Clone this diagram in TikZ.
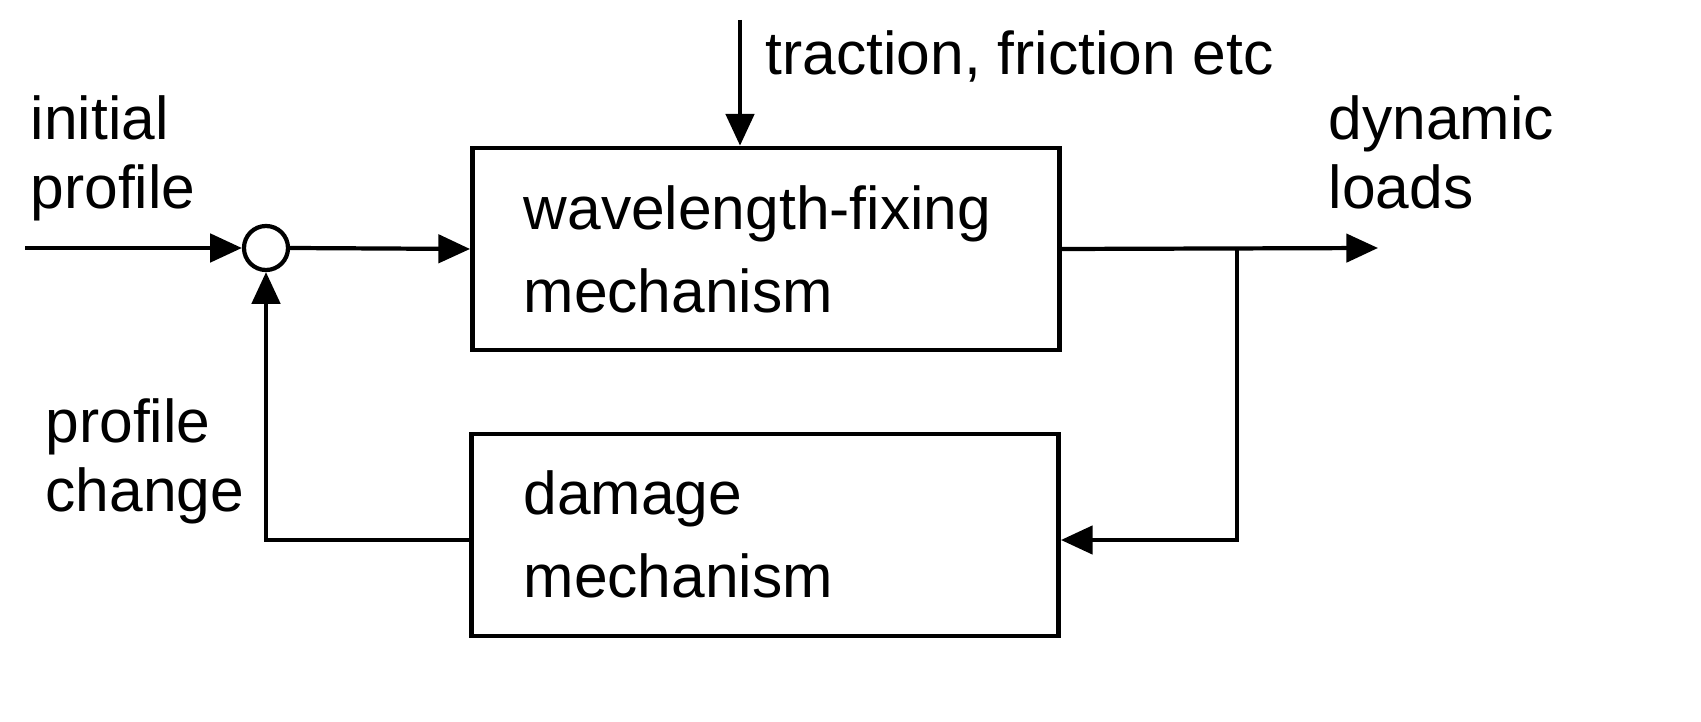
\documentclass[tikz,border=0pt]{standalone}
\usepackage{fontspec}
\setmainfont{Liberation Sans}
\usetikzlibrary{arrows.meta}
\begin{document}
\begin{tikzpicture}[x=0.01cm,y=-0.01cm,
  every node/.style={font=\fontsize{17.2}{19.5}\selectfont},
  ln/.style={line width=1.2pt},
  arr/.style={ln,-{Triangle[length=9pt,width=8pt]}},
  blk/.style={draw,line width=1.3pt,minimum width=5.87cm,minimum height=2.02cm},
  lbl/.style={align=left,anchor=north west,inner sep=0pt}]
\useasboundingbox (0,0) rectangle (1701,722);
\node[blk] (wf) at (766,249) {};
\node[blk] (dm) at (765,535) {};
\node[lbl] at (523,185) {wavelength-fixing\\[4pt]mechanism};
\node[lbl] at (523,470) {damage\\[4pt]mechanism};
\node[draw,circle,line width=1.2pt,minimum size=0.44cm,inner sep=0pt] (sum) at (266,248) {};
\coordinate (in) at (25,248);
\coordinate (top) at (740,20);
\coordinate (out) at (1378,248);
\coordinate (br) at (1237,248);
\coordinate (brd) at (1237,540);
\coordinate (fbc) at (266,540);
\draw[arr] (in) -- (sum.west);
\draw[arr] (sum.east) -- (wf.west);
\draw[arr] (top) -- (wf.north west -| top);
\draw[arr] (wf.east) -- (out);
\draw[arr] (br) -- (brd) -- (dm.east |- brd);
\draw[arr] (dm.west |- fbc) -- (fbc) -- (sum.south);
\node[lbl] at (765,30) {traction, friction etc};
\node[lbl] at (30,95) {initial\\profile};
\node[lbl] at (1328,95) {dynamic\\loads};
\node[lbl] at (45,398) {profile\\change};
\end{tikzpicture}
\end{document}
